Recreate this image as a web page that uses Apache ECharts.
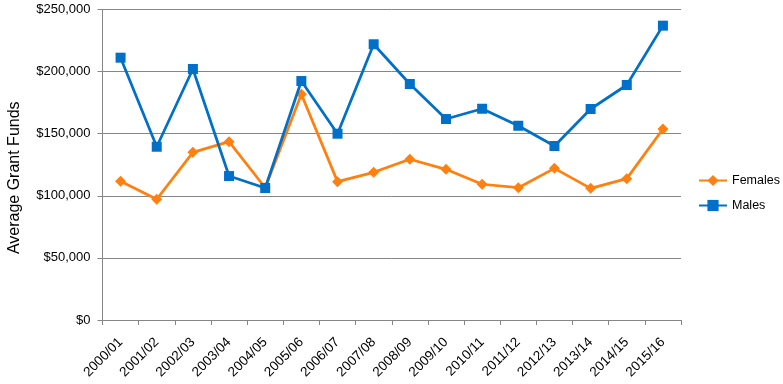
<!DOCTYPE html>
<html><head><meta charset="utf-8">
<script src="https://cdn.jsdelivr.net/npm/echarts@6/dist/echarts.min.js"></script>
<style>html,body{margin:0;padding:0;background:#fff}#c{width:783px;height:384px}</style>
</head><body><div id="c"></div>
<script>
var categories = ['2000/01','2001/02','2002/03','2003/04','2004/05','2005/06','2006/07','2007/08','2008/09','2009/10','2010/11','2011/12','2012/13','2013/14','2014/15','2015/16'];
var females = [111700, 97200, 135000, 143600, 106500, 181700, 111400, 118900, 129400, 121300, 109300, 106500, 122100, 106000, 113800, 153800];
var males = [211200, 139500, 202100, 115900, 106300, 192400, 150000, 222000, 190000, 161800, 170100, 156400, 140100, 169900, 189200, 237000];
var yTicks = [0, 50000, 100000, 150000, 200000, 250000];

var FONT = 'Liberation Sans';
var chart = echarts.init(document.getElementById('c'), null, {renderer: 'canvas'});
chart.setOption({
  animation: false,
  textStyle: {fontFamily: FONT},
  grid: {left: 102.5, right: 102, top: 9.5, bottom: 64, containLabel: false, outerBoundsMode: 'none'},
  legend: {
    orient: 'vertical', left: 693, top: 169, itemGap: 12, itemWidth: 28, itemHeight: 14,
    textStyle: {fontFamily: FONT, fontSize: 12.5, color: '#000'},
    data: ['Females', 'Males']
  },
  xAxis: {
    type: 'category', data: categories, boundaryGap: true,
    axisLine: {lineStyle: {color: '#868686', width: 1}},
    axisTick: {show: true, length: 5, lineStyle: {color: '#868686'}},
    axisLabel: {rotate: 45, fontSize: 13.5, color: '#000', interval: 0, margin: 20, fontFamily: FONT,
      padding: [0, 0, 0, 0]}
  },
  yAxis: {
    type: 'value', min: 0, max: 250000, interval: 50000,
    name: 'Average Grant Funds', nameLocation: 'middle', nameGap: 80, nameRotate: 90,
    nameTextStyle: {fontSize: 16, color: '#000', fontFamily: FONT, padding: [0, 26, 0, 0]},
    axisLine: {show: true, lineStyle: {color: '#868686'}},
    axisTick: {show: true, length: 5, lineStyle: {color: '#868686'}},
    splitLine: {lineStyle: {color: '#868686', width: 1}},
    axisLabel: {fontSize: 13, color: '#000', margin: 12, fontFamily: FONT,
      formatter: function (v) { return '$' + v.toLocaleString('en-US'); }}
  },
  series: [
    {name: 'Females', type: 'line', data: females, symbol: 'diamond', symbolSize: 11,
     itemStyle: {color: '#FF7F0F'}, lineStyle: {width: 2.75, color: '#FF7F0F'}, z: 2},
    {name: 'Males', type: 'line', data: males, symbol: 'rect', symbolSize: 10,
     itemStyle: {color: '#0070C9'}, lineStyle: {width: 2.75, color: '#0070C9'}, z: 3}
  ]
});
</script></body></html>
